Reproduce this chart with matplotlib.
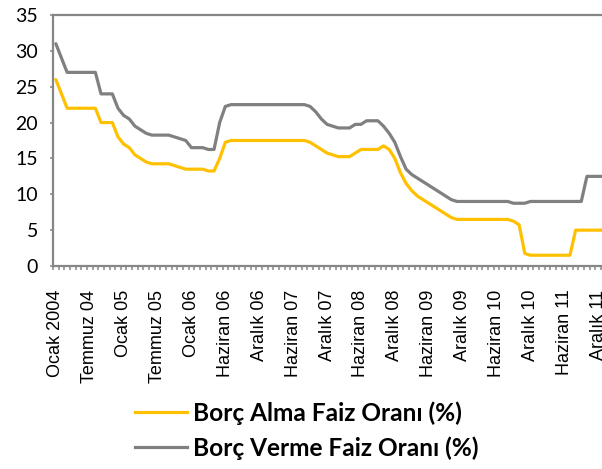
import numpy as np
import matplotlib
matplotlib.use("Agg")
import matplotlib.pyplot as plt
from matplotlib.lines import Line2D

# Monthly policy rates (%), one value per category
borc_alma = [
    26, 24, 22, 22, 22, 22, 22, 22, 20, 20,
    20, 18, 17, 16.5, 15.5, 15, 14.5, 14.25, 14.25, 14.25,
    14.25, 14, 13.75, 13.5, 13.5, 13.5, 13.5, 13.25, 13.25, 15,
    17.25, 17.5, 17.5, 17.5, 17.5, 17.5, 17.5, 17.5, 17.5, 17.5,
    17.5, 17.5, 17.5, 17.5, 17.5, 17.25, 16.75, 16.25, 15.75, 15.5,
    15.25, 15.25, 15.25, 15.75, 16.25, 16.25, 16.25, 16.25, 16.75, 16.25,
    15, 13, 11.5, 10.5, 9.75, 9.25, 8.75, 8.25, 7.75, 7.25,
    6.75, 6.5, 6.5, 6.5, 6.5, 6.5, 6.5, 6.5, 6.5, 6.5,
    6.5, 6.25, 5.75, 1.75, 1.5, 1.5, 1.5, 1.5, 1.5, 1.5,
    1.5, 1.5, 5, 5, 5, 5, 5, 5,
]
borc_verme = [
    31, 29, 27, 27, 27, 27, 27, 27, 24, 24,
    24, 22, 21, 20.5, 19.5, 19, 18.5, 18.25, 18.25, 18.25,
    18.25, 18, 17.75, 17.5, 16.5, 16.5, 16.5, 16.25, 16.25, 20,
    22.25, 22.5, 22.5, 22.5, 22.5, 22.5, 22.5, 22.5, 22.5, 22.5,
    22.5, 22.5, 22.5, 22.5, 22.5, 22.25, 21.5, 20.5, 19.75, 19.5,
    19.25, 19.25, 19.25, 19.75, 19.75, 20.25, 20.25, 20.25, 19.5, 18.5,
    17.25, 15.25, 13.5, 12.75, 12.25, 11.75, 11.25, 10.75, 10.25, 9.75,
    9.25, 9, 9, 9, 9, 9, 9, 9, 9, 9,
    9, 8.75, 8.75, 8.75, 9, 9, 9, 9, 9, 9,
    9, 9, 9, 9, 12.5, 12.5, 12.5, 12.5,
]
tick_labels = [
    "Ocak 2004", "Temmuz 04", "Ocak 05", "Temmuz 05", "Ocak 06",
    "Haziran 06", "Aralık 06", "Haziran 07", "Aralık 07", "Haziran 08",
    "Aralık 08", "Haziran 09", "Aralık 09", "Haziran 10", "Aralık 10",
    "Haziran 11", "Aralık 11",
]
series_names = ["Borç Alma Faiz Oranı (%)", "Borç Verme Faiz Oranı (%)"]
series_colors = ["#FFC000", "#808080"]

AXIS_GRAY = "#868686"

fig = plt.figure(figsize=(6.02, 4.69), dpi=100)
n = len(borc_alma)
W, H = 602.0, 469.0
left_px, right_px, top_px, bottom_px = 53.0, 53.0 + n * 5.65, 15.0, 266.0
ax = fig.add_axes([left_px / W, 1 - bottom_px / H,
                   (right_px - left_px) / W, (bottom_px - top_px) / H])

x = np.arange(n)
for vals, color in zip([borc_alma, borc_verme], series_colors):
    ax.plot(x, vals, color=color, lw=2.3, solid_joinstyle="round",
            solid_capstyle="round", zorder=3)

ax.set_xlim(-0.5, n - 0.5)
ax.set_ylim(0, 35)

# axes frame
ax.spines["right"].set_visible(False)
for side in ["left", "bottom", "top"]:
    ax.spines[side].set_color(AXIS_GRAY)
    ax.spines[side].set_linewidth(1.6)

# category axis: boundary ticks + every sixth label
ax.set_xticks(np.arange(0, n, 6)[:len(tick_labels)])
ax.set_xticklabels(tick_labels, rotation=90, fontfamily="Liberation Sans",
                   fontsize=13)
ax.set_xticks(np.arange(-0.5, n, 1), minor=True)
ax.tick_params(axis="x", which="major", length=0, pad=17)
ax.tick_params(axis="x", which="minor", length=3.2, width=1.1,
               color=AXIS_GRAY, direction="out")

# value axis
ax.set_yticks(np.arange(0, 36, 5))
ax.set_yticklabels([str(v) for v in range(0, 36, 5)], fontfamily="Lato",
                   fontsize=14)
ax.set_yticks([0, 35], minor=True)
ax.tick_params(axis="y", which="major", length=2.2, width=1.1,
               color=AXIS_GRAY, pad=8.5)
ax.tick_params(axis="y", which="minor", length=5.8, width=1.6,
               color=AXIS_GRAY)

handles = [Line2D([], [], color=c, lw=2.3) for c in series_colors]
fig.legend(handles, series_names, loc="upper left",
           bbox_to_anchor=(135 / W, 1 - 401 / H), frameon=False,
           prop={"family": "Lato", "weight": "bold", "size": 17.6},
           handlelength=2.13, handletextpad=0.25, labelspacing=0.48,
           borderpad=0, borderaxespad=0)

fig.savefig("out.png", dpi=100)
